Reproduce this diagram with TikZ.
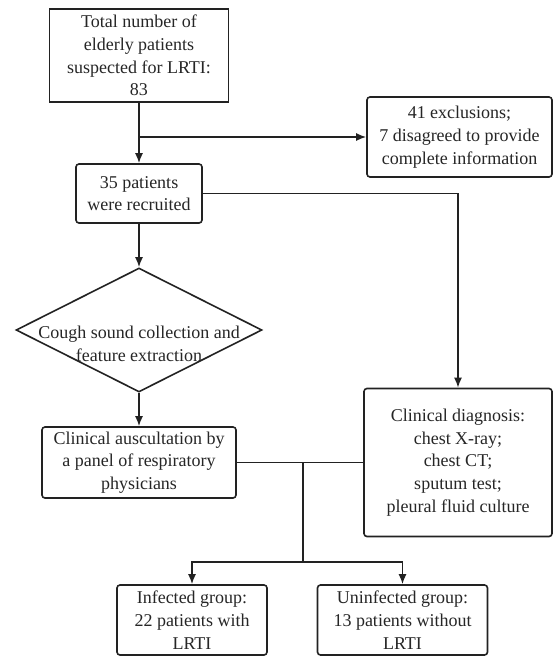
\documentclass[tikz,border=0pt]{standalone}
\usepackage{fontspec}
\setmainfont{Liberation Serif}
\usetikzlibrary{shapes.geometric,arrows.meta}
\definecolor{linegray}{HTML}{222222}
\definecolor{textgray}{HTML}{262626}
\tikzset{
  box/.style={draw=linegray,line width=1.6pt,align=center,inner sep=0pt,
    text=textgray,font=\fontsize{18}{22.7}\selectfont},
  rbox/.style={box,rounded corners=3pt},
  decision/.style={draw=linegray,line width=1.6pt,diamond,inner sep=0pt},
  link/.style={draw=linegray,line width=1.6pt},
  arrow/.style={link,-{Latex[length=10pt,width=8pt]}}
}
\begin{document}
\begin{tikzpicture}[yscale=-1,x=1pt,y=1pt]
\useasboundingbox[fill=white] (0,0) rectangle (553,657);
\node[box,minimum width=179pt,minimum height=93pt] (total) at (139,55.5) {Total number of\\elderly patients\\suspected for LRTI:\\83};
\node[rbox,minimum width=185pt,minimum height=80pt] (excl) at (459.5,137) {41 exclusions;\\7 disagreed to provide\\complete information};
\node[rbox,minimum width=126pt,minimum height=59pt] (recruit) at (139,193.5) {35 patients\\were recruited};
\node[decision,minimum width=246pt,minimum height=124pt] (cough) at (139,330) {};
\node[align=center,inner sep=0pt,text=textgray,font=\fontsize{18}{22.7}\selectfont] (coughtext) at (139,343.5) {Cough sound collection and\\feature extraction};
\node[rbox,minimum width=194pt,minimum height=71pt] (auscult) at (139,462.5) {Clinical auscultation by\\a panel of respiratory\\physicians};
\node[rbox,minimum width=188pt,minimum height=148pt] (diag) at (458,462.5) {Clinical diagnosis:\\chest X-ray;\\chest CT;\\sputum test;\\pleural fluid culture};
\node[rbox,minimum width=150pt,minimum height=70pt] (infected) at (192,620) {Infected group:\\22 patients with\\LRTI};
\node[rbox,minimum width=170pt,minimum height=70pt] (uninfected) at (402.5,620) {Uninfected group:\\13 patients without\\LRTI};
\coordinate (split) at (139,137);
\coordinate (merge) at (303,462.5);
\coordinate (fork) at (303,562);
\draw[arrow] (total) -- (recruit);
\draw[arrow] (split) -- (excl);
\draw[arrow] (recruit) -- (cough);
\draw[arrow] (recruit.east) -| (diag.north);
\draw[arrow] (cough) -- (auscult);
\draw[link] (auscult.east) -- (diag.west);
\draw[link] (merge) -- (fork);
\draw[arrow] (fork) -| (infected.north);
\draw[arrow] (fork) -| (uninfected.north);
\end{tikzpicture}
\end{document}
